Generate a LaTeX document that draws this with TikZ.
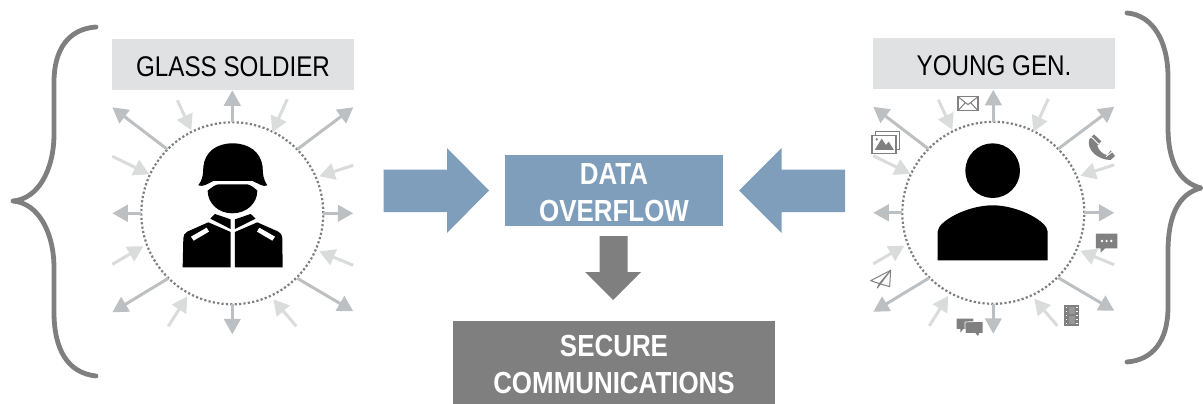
\documentclass[tikz,border=0pt]{standalone}
\usepackage{fontspec}
\setmainfont{Liberation Sans}
\usetikzlibrary{arrows.meta}
\definecolor{bluefill}{HTML}{7F9EBC}
\definecolor{darkgrey}{HTML}{7F7F7F}
\definecolor{labelgrey}{HTML}{E0E1E3}
\definecolor{outarrow}{HTML}{BCC0C3}
\definecolor{inarrow}{HTML}{DADBDB}
\definecolor{icongrey}{HTML}{808080}
\newcommand{\narrowtext}[1]{\scalebox{0.85}[1]{#1}}
\tikzset{
  x=1pt,y=-1pt,
  outflow/.style={draw=outarrow,line width=3pt,-{Triangle[length=15.5pt,width=16.5pt]}},
  inflow/.style={draw=inarrow,line width=3pt,-{Triangle[length=15.5pt,width=16.5pt]}},
  brace/.style={draw=darkgrey,line width=4.8pt,line cap=round,line join=round},
  ring/.style={draw=darkgrey,line width=2.2pt,dash pattern=on 2.2pt off 2.2pt},
  labelbox/.style={fill=labelgrey,minimum width=242pt,minimum height=51pt,inner sep=0pt,text=black,font=\fontsize{28.5}{28.5}\selectfont},
  bluebox/.style={fill=bluefill,text=white,inner sep=0pt,align=center,font=\fontsize{30.5}{37.5}\selectfont\bfseries},
  greybox/.style={fill=darkgrey,text=white,inner sep=0pt,align=center,font=\fontsize{30.5}{37.5}\selectfont\bfseries},
  thinicon/.style={draw=icongrey,line width=1.1pt,fill=white},
  solidicon/.style={fill=icongrey,draw=none},
}
\newcommand{\flowring}[1]{%
  \begin{scope}[shift={(#1)}]
    \draw[ring] (0,0) circle[radius=91pt];
    \foreach \n/\ax/\ay/\bx/\by in {
      a/0/-91/0/-123, b/-65/-64/-120/-106, c/65/-64/121/-106,
      d/-91/0/-120/0, e/91/0/121/0, f/-64/65/-120/99, g/65/65/121/98, h/0/91/0/121}{
      \coordinate (\n s) at (\ax,\ay); \coordinate (\n t) at (\bx,\by);
      \draw[outflow] (\n s) -- (\n t);
    }
    \foreach \n/\ax/\ay/\bx/\by in {
      i/-55/-113/-41/-83, j/55/-114/40/-81, k/-120/-57/-83/-39, l/121/-48/87/-37,
      m/-120/51/-89/33, n/121/52/87/38, o/-64/113/-45/83, p/64/113/41/86}{
      \coordinate (\n s) at (\ax,\ay); \coordinate (\n t) at (\bx,\by);
      \draw[inflow] (\n s) -- (\n t);
    }
  \end{scope}%
}
\begin{document}
\begin{tikzpicture}
\useasboundingbox (0,0) rectangle (1203,404);
% braces
\draw[brace] (96,27) .. controls (68,29) and (54,50) .. (54,82) -- (54,134)
  .. controls (54,170) and (38,199) .. (13,201)
  .. controls (38,203) and (54,232) .. (54,268) -- (54,312)
  .. controls (54,350) and (68,373) .. (96,376);
\draw[brace] (1127,13) .. controls (1152,15) and (1168,40) .. (1168,77) -- (1168,127)
  .. controls (1168,160) and (1178,182) .. (1201,188)
  .. controls (1178,194) and (1168,216) .. (1168,252) -- (1168,307)
  .. controls (1168,342) and (1152,360) .. (1127,362);
% label boxes
\node[labelbox] (glass) at (233,64.5) {\rule{0pt}{23.4pt}\narrowtext{GLASS SOLDIER}};
\node[labelbox] (young) at (994,64) {\rule{0pt}{23.4pt}\narrowtext{YOUNG GEN.}};
\flowring{232.3,213.3}
\flowring{993.3,212.8}
% central boxes
\node[bluebox,minimum width=218pt,minimum height=71pt] (data) at (614,190.5) {\rule{0pt}{25.5pt}\narrowtext{DATA}\\\narrowtext{OVERFLOW}};
\node[greybox,minimum width=322pt,minimum height=83pt] (secure) at (614,362.5) {\rule{0pt}{25.5pt}\narrowtext{SECURE}\\\narrowtext{COMMUNICATIONS}};
% block arrows
\fill[bluefill] (383.5,169.5) -- (447,169.5) -- (447,148) -- (489,190.5) -- (447,233) -- (447,212) -- (383.5,212) -- cycle;
\fill[bluefill] (845,169.5) -- (781.5,169.5) -- (781.5,148) -- (739,190.5) -- (781.5,233) -- (781.5,212) -- (845,212) -- cycle;
\fill[darkgrey] (599.5,236) -- (627.5,236) -- (627.5,272) -- (641,272) -- (613,300) -- (585,272) -- (599.5,272) -- cycle;
% soldier
\begin{scope}[shift={(100,80)},x=0.3333pt,y=-0.3333pt]
  \fill[black] (295,316) .. controls (308,300) and (310,280) .. (310,260)
    .. controls (315,215) and (350,190) .. (398,190)
    .. controls (446,190) and (482,215) .. (488,260)
    .. controls (488,280) and (490,300) .. (502,316)
    .. controls (490,322) and (478,312) .. (458,303)
    -- (340,303) .. controls (320,312) and (310,322) .. (295,316) -- cycle;
  \fill[black] (323,332) .. controls (335,322) and (345,315) .. (355,313) -- (442,313)
    .. controls (452,315) and (462,322) .. (472,332)
    .. controls (472,370) and (440,400) .. (397,400)
    .. controls (355,400) and (323,370) .. (323,332) -- cycle;
  \fill[black] (392,562) -- (392,456) -- (325,427) -- (262,455) .. controls (254,460) and (250,465) .. (250,475) -- (248,562) -- cycle;
  \fill[black] (405,562) -- (405,456) -- (472,427) -- (535,455) .. controls (543,460) and (547,465) .. (547,475) -- (548,562) -- cycle;
  \fill[black] (331,416) -- (345,402) -- (392,418) -- (392,447) -- cycle;
  \fill[black] (405,418) -- (452,402) -- (467,416) -- (405,447) -- cycle;
  \fill[white] (273,470) -- (320,443) -- (327,455) -- (281,482) -- cycle;
  \fill[white] (525,470) -- (478,443) -- (471,455) -- (517,482) -- cycle;
\end{scope}
% person
\begin{scope}[shift={(860,80)},x=0.3333pt,y=-0.3333pt]
  \fill[black] (398,272) circle[radius=82];
  \fill[black] (233,541) -- (233,455) .. controls (233,425) and (320,376) .. (398,376)
    .. controls (476,376) and (563,425) .. (563,455) -- (563,541) -- cycle;
  % envelope
  \draw[thinicon] (294,50) rectangle (354,92);
  \draw[icongrey,line width=1pt] (294,50) -- (324,74) -- (354,50) (294,92) -- (316,68) (354,92) -- (332,68);
  % pictures
  \draw[thinicon] (46,155) rectangle (118,208);
  \draw[thinicon] (36,167) rectangle (108,220);
  \fill[icongrey] (44,210) -- (65,176) -- (78,195) -- (86,185) -- (102,210) -- cycle;
  \fill[icongrey] (50,178) circle[radius=4];
  % phone
  \fill[icongrey] (702,163) -- (724,184) -- (712,197)
    .. controls (716,212) and (728,222) .. (742,226) -- (752,211) -- (765,228) -- (752,240)
    .. controls (715,240) and (678,210) .. (688,178) -- cycle;
  \draw[white,line width=0.9pt] (694,171) -- (716,192) (738,230) -- (757,215);
  % speech
  \fill[solidicon] (708,461) -- (772,461) -- (772,505) -- (735,505) -- (722,518) -- (722,505) -- (708,505) -- cycle;
  \fill[white] (726,483) circle[radius=4] (740,483) circle[radius=4] (754,483) circle[radius=4];
  % plane
  \draw[icongrey,line width=1pt,fill=white,line join=round] (92,571) -- (32,602) -- (58,611) -- (89,620) -- cycle;
  \draw[icongrey,line width=1pt,line join=round] (58,611) -- (92,571) -- (52,624) -- (58,611);
  % chat
  \fill[solidicon] (290,716) -- (340,716) -- (340,747) -- (310,747) -- (301,758) -- (301,747) -- (290,747) -- cycle;
  \fill[solidicon] (317,726) -- (368,726) -- (368,759) -- (358,759) -- (354,768) -- (346,759) -- (317,759) -- cycle;
  \draw[white,line width=0.7pt] (315,726) -- (368,724) (315,726) -- (315,761);
  % film
  \fill[solidicon] (613,675) rectangle (657,737);
  \foreach \yy in {680,692,704,716,728}{
    \fill[white] (617,\yy) rectangle (622,\yy+5);
    \fill[white] (648,\yy) rectangle (653,\yy+5);
  }
  \fill[white!18!icongrey] (626,680) rectangle (644,703);
  \fill[white!18!icongrey] (626,708) rectangle (644,732);
\end{scope}
\end{tikzpicture}
\end{document}
